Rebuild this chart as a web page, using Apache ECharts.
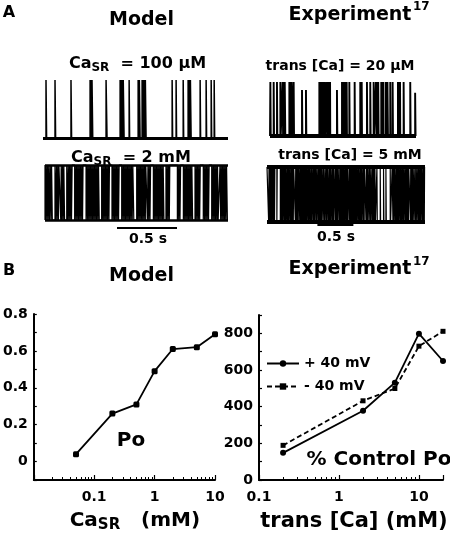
<!DOCTYPE html>
<html><head><meta charset="utf-8">
<script src="https://cdn.jsdelivr.net/npm/echarts@6/dist/echarts.min.js"></script>
<style>html,body{margin:0;padding:0;background:#fff}#c{width:450px;height:540px}</style>
</head><body><div id="c"></div>
<script>
// ---------- Panel B data ----------
const modelCaSR = [0.05, 0.2, 0.5, 1, 2, 5, 10];
const modelPo = [0.04, 0.26, 0.31, 0.49, 0.61, 0.62, 0.69];
const expTransCa = [0.2, 2, 5, 10, 20];
const expPlus40mV = [148, 378, 531, 798, 649];
const expMinus40mV = [189, 432, 499, 730, 811];
const legendNames = ['+ 40 mV', '- 40 mV'];
const modelYTickLabels = ['0', '0.2', '0.4', '0.6', '0.8'];
const expYTickLabels = ['0', '200', '400', '600', '800'];
const logXTickLabels = ['0.1', '1', '10'];

// ---------- Panel A single-channel records (ms) ----------
const scaleBarMs = 500;
const model100uMDurMs = 1540;
const model100uMOpen = [[25,30],[100,105],[233,238],[392,396],[400,404],[408,414],[525,533],
  [642,646],[650,655],[660,664],[668,675],[717,721],[792,796],[802,808],
  [825,829],[834,838],[843,847],[852,858],[1075,1079],[1108,1112],[1167,1171],
  [1208,1212],[1217,1221],[1227,1233],[1308,1312],[1358,1362],[1400,1404],[1425,1429]];
const model2mMDurMs = 1525;
const model2mMOpen = [[0,5],[10,16],[21,27],[32,38],[44,50],[55,61],
  [83,90],[95,101],[106,112],[116,131],[135,141],[146,152],[157,163],
  [181,188],[193,199],[204,210],[215,221],[226,247],[252,258],[263,269],[274,280],[285,291],[296,302],[307,313],[317,342],
  [347,353],[358,364],[369,375],[380,386],[391,397],[402,408],[413,419],[424,430],[435,441],[446,452],
  [472,478],[483,489],[494,500],[505,511],[516,522],[527,533],[537,558],
  [563,569],[574,580],[585,591],[596,602],[607,613],[618,639],
  [644,650],[655,661],[666,672],[677,683],[688,694],[699,705],[710,716],[721,727],[732,740],
  [764,770],[775,781],[786,792],[797,803],[808,814],[819,825],[830,836],[840,853],
  [858,864],[869,875],[880,903],
  [908,914],[919,925],[930,936],[941,947],[952,958],[963,969],[974,980],[985,991],
  [1008,1014],[1019,1025],[1030,1036],[1040,1103],
  [1108,1114],[1119,1125],[1130,1153],
  [1158,1164],[1169,1175],[1180,1186],[1191,1197],[1202,1208],[1213,1219],[1224,1230],
  [1250,1256],[1261,1267],[1272,1278],[1283,1289],[1294,1319],
  [1324,1330],[1335,1341],[1346,1352],[1357,1363],[1368,1389],
  [1394,1400],[1405,1411],[1416,1422],[1427,1433],[1438,1443],
  [1458,1464],[1469,1475],[1480,1486],[1491,1497],[1502,1508],[1513,1520]];
const exp20uMDurMs = 2030;
const exp20uMOpen = [[5,10],[51,56],[97,102],[144,149],[176,182],[186,190],[195,200],[205,213],
  [269,275],[280,286],[291,297],[300,306],[329,334],[445,450,0.85],[500,505,0.85],
  [686,692],[697,702],[707,713],[722,728],[733,740],[745,750],[755,762],[765,769],
  [792,798],[803,809],[814,820],[826,832],[835,838],[931,936,0.85],
  [1001,1008],[1012,1018],[1023,1030],[1034,1041],[1046,1052],[1057,1063],[1066,1070],
  [1103,1108],[1177,1182],[1255,1262],[1266,1272],[1275,1279],[1348,1353],[1394,1399],[1441,1446],
  [1473,1480],[1484,1490],[1495,1502],[1505,1510],[1547,1553],[1558,1564],[1570,1575],[1577,1580],
  [1612,1618],[1622,1628],[1633,1640],[1672,1677],[1705,1710],
  [1779,1785],[1790,1796],[1800,1806],[1808,1811],[1858,1863],[1950,1955],[2018,2024,0.8]];
const exp5mMDurMs = 2195;
const exp5mMClosed = [[23,28],[33,38],[42,47],[52,57],[62,69],[80,84],[90,94],[104,109],[137,142],
  [185,190],[194,199],[204,209],[215,220],[226,232],[245,249],[258,262],[276,281],[290,295],[305,310],
  [324,329],[334,339],[344,349],[355,360],[365,371],[394,399],[404,409],[414,419],[424,429],[434,440],
  [455,459],[468,472],[484,489],[500,504],[510,514],[523,528],[533,538],[545,550],[551,556],
  [570,574],[585,589],[603,608],[613,618],[620,625],[640,644],[655,659],[670,675],[690,694],[710,714],[725,729],
  [741,746],[750,755],[759,764],[780,784],[800,805],[820,824],[835,839],[855,860],[870,874],[885,889],
  [904,909],[914,919],[922,927],[945,949],[958,962],[971,976],[985,989],
  [1006,1011],[1016,1021],[1026,1031],[1038,1043],[1055,1059],[1070,1074],[1087,1092],[1105,1109],[1120,1124],
  [1142,1147],[1160,1164],[1175,1179],[1190,1194],
  [1205,1210],[1215,1220],[1226,1231],[1236,1241],[1246,1251],[1265,1269],
  [1283,1288],[1293,1298],[1304,1309],[1315,1320],[1335,1339],[1350,1354],[1376,1381],[1386,1391],[1399,1404],
  [1420,1424],[1440,1444],[1460,1465],[1470,1475],[1478,1483],[1495,1499],
  [1506,1527],[1532,1573],[1578,1619],[1624,1652],[1657,1712],[1717,1738],[1750,1754],[1765,1769],
  [1784,1789],[1794,1799],[1804,1809],[1815,1820],[1826,1831],[1845,1849],[1860,1864],[1877,1882],[1895,1900],
  [1915,1919],[1932,1937],[1942,1947],[1952,1957],[1964,1969],[1992,1997],[2002,2007],[2012,2017],[2020,2024],
  [2040,2044],[2061,2066],[2080,2085],[2100,2104],[2117,2122],[2127,2132],[2140,2145],[2160,2164],[2175,2180],[2185,2189]];

// ---------- helpers ----------
function openingsTrace(events, dur) {
  const pts = [[0, 0]];
  events.forEach(e => { const l = e.length > 2 ? e[2] : 1; pts.push([e[0], 0], [e[0], l], [e[1], l], [e[1], 0]); });
  pts.push([dur, 0]);
  return pts;
}
function closuresTrace(events, dur) {
  const pts = [[0, 1]];
  events.forEach(e => { pts.push([e[0], 1], [e[0], 0], [e[1], 0], [e[1], 1]); });
  pts.push([dur, 1]);
  return pts;
}
const FF = '"DejaVu Sans", "Liberation Sans", Arial, sans-serif';
function levelLines(levels, w) {
  return { silent: true, symbol: ['none', 'none'], label: { show: false },
    lineStyle: { color: '#000', width: w, type: 'solid' }, data: levels.map(v => ({ yAxis: v })) };
}
function traceSeries(idx, data, w, levels, lw) {
  return { type: 'line', xAxisIndex: idx, yAxisIndex: idx, data, symbol: 'none', clip: false,
    lineStyle: { color: '#000', width: w }, markLine: levelLines(levels, lw) };
}
function txt(x, y, text, size, align, rich) {
  const st = { text, fill: '#000', font: 'bold ' + size + 'px ' + FF, fontSize: size, fontWeight: 'bold', fontFamily: FF,
    textAlign: align || 'center', textVerticalAlign: 'middle', align: align || 'center', verticalAlign: 'middle' };
  if (rich) st.rich = rich;
  return { type: 'text', x, y, silent: true, style: st };
}
const subRich = (a, s, sp) => ({
  a: { fontSize: a, fontWeight: 'bold', fontFamily: FF, fill: '#000', color: '#000', lineHeight: a + 2, verticalAlign: 'top' },
  s: { fontSize: s, fontWeight: 'bold', fontFamily: FF, fill: '#000', color: '#000', lineHeight: s, padding: [sp, 0, 0, 0], verticalAlign: 'bottom' }
});
const hidden = (i, min, max) => ({ gridIndex: i, type: 'value', min, max, show: false });
const lbl = { color: '#000', fontFamily: FF, fontWeight: 'bold', fontSize: 14 };
const axLine = { show: true, onZero: false, lineStyle: { color: '#000', width: 2 } };
const axTick = { show: true, inside: true, length: 5, lineStyle: { color: '#000', width: 1.2 } };
const minTick = { show: true, splitNumber: 9, length: 3, lineStyle: { color: '#000', width: 1 } };
const logFmt = v => { const s = String(+Number(v).toPrecision(6)); return logXTickLabels.includes(s) ? s : ''; };

const option = {
  animation: false,
  backgroundColor: '#fff',
  textStyle: { fontFamily: FF },
  grid: [
    { left: 43, top: 80, width: 185, height: 58 },
    { left: 45, top: 165, width: 183, height: 63 },
    { left: 270, top: 82, width: 146, height: 54 },
    { left: 267, top: 167, width: 158, height: 58 },
    { left: 32, top: 314, width: 183, height: 166 },
    { left: 259, top: 315, width: 184, height: 165 }
  ],
  xAxis: [
    hidden(0, 0, model100uMDurMs), hidden(1, 0, model2mMDurMs), hidden(2, 0, exp20uMDurMs), hidden(3, 0, exp5mMDurMs),
    { gridIndex: 4, type: 'log', logBase: 10, min: 0.01, max: 10, axisLine: axLine, axisTick: axTick, minorTick: minTick,
      splitLine: { show: false }, minorSplitLine: { show: false },
      axisLabel: Object.assign({ margin: 10, formatter: logFmt, showMaxLabel: true, showMinLabel: true }, lbl),
      name: '{a|Ca}{s|SR}{a|   (mM)}', nameLocation: 'middle', nameGap: 31,
      nameTextStyle: { padding: [0, 0, 0, 21], rich: subRich(20, 15, 12) } },
    { gridIndex: 5, type: 'log', logBase: 10, min: 0.1, max: 20, axisLine: axLine, axisTick: axTick, minorTick: minTick,
      splitLine: { show: false }, minorSplitLine: { show: false },
      axisLabel: Object.assign({ margin: 10, formatter: logFmt, showMaxLabel: true, showMinLabel: true }, lbl),
      name: 'trans [Ca] (mM)', nameLocation: 'middle', nameGap: 31,
      nameTextStyle: { padding: [0, 0, 0, 6], color: '#000', fontFamily: FF, fontWeight: 'bold', fontSize: 21 } }
  ],
  yAxis: [
    hidden(0, 0, 1), hidden(1, -0.145, 1), hidden(2, 0, 1), hidden(3, -0.055, 1),
    { gridIndex: 4, type: 'value', min: -0.1, max: 0.8, interval: 0.1, axisLine: axLine,
      axisTick: Object.assign({}, axTick, { length: 3 }), splitLine: { show: false },
      axisLabel: Object.assign({ margin: 6, formatter: v => { const s = String(Math.round(v * 10) / 10); return modelYTickLabels.includes(s) ? s : ''; } }, lbl) },
    { gridIndex: 5, type: 'value', min: 0, max: 900, interval: 100, axisLine: axLine,
      axisTick: Object.assign({}, axTick, { length: 3 }), splitLine: { show: false },
      axisLabel: Object.assign({ margin: 6, formatter: v => expYTickLabels.includes(String(v)) ? String(v) : '' }, lbl) }
  ],
  legend: {
    data: legendNames, left: 266, top: 355, orient: 'vertical', itemWidth: 32, itemHeight: 8, itemGap: 6,
    textStyle: { color: '#000', fontFamily: FF, fontWeight: 'bold', fontSize: 14, lineHeight: 17 }, padding: 0
  },
  series: [
    traceSeries(0, openingsTrace(model100uMOpen, model100uMDurMs), 1.5, [0], 3),
    traceSeries(1, openingsTrace(model2mMOpen, model2mMDurMs), 1.2, [0, 1], 2.5),
    traceSeries(2, openingsTrace(exp20uMOpen, exp20uMDurMs), 1.9, [0], 4),
    traceSeries(3, closuresTrace(exp5mMClosed, exp5mMDurMs), 1.2, [0, 1], 4),
    { type: 'line', xAxisIndex: 1, yAxisIndex: 1, data: [[600, -0.145], [600 + scaleBarMs, -0.145]], symbol: 'none', clip: false, lineStyle: { color: '#000', width: 2 } },
    { type: 'line', xAxisIndex: 3, yAxisIndex: 3, data: [[700, -0.055], [700 + scaleBarMs, -0.055]], symbol: 'none', clip: false, lineStyle: { color: '#000', width: 2 } },
    { type: 'line', xAxisIndex: 4, yAxisIndex: 4, data: modelCaSR.map((c, i) => [c, modelPo[i]]),
      symbol: 'roundRect', symbolSize: 6, itemStyle: { color: '#000' }, lineStyle: { color: '#000', width: 1.8 } },
    { name: legendNames[0], type: 'line', xAxisIndex: 5, yAxisIndex: 5, data: expTransCa.map((c, i) => [c, expPlus40mV[i]]),
      symbol: 'circle', symbolSize: 6, itemStyle: { color: '#000' }, lineStyle: { color: '#000', width: 1.8 } },
    { name: legendNames[1], type: 'line', xAxisIndex: 5, yAxisIndex: 5, data: expTransCa.map((c, i) => [c, expMinus40mV[i]]),
      symbol: 'rect', symbolSize: 5, itemStyle: { color: '#000' }, lineStyle: { color: '#000', width: 1.8, type: [5, 3] } }
  ],
  graphic: [
    txt(9, 13, 'A', 16), txt(9, 271, 'B', 16),
    txt(141.5, 20, 'Model', 19), txt(350, 15, 'Experiment', 19), txt(413, 7, '17', 12, 'left'),
    txt(141.5, 276.5, 'Model', 19), txt(350, 269, 'Experiment', 19), txt(413, 262, '17', 12, 'left'),
    txt(137.5, 65, '{a|Ca}{s|SR}{a|  = 100 µM}', 16, 'center', subRich(16, 12, 10)),
    txt(131, 159, '{a|Ca}{s|SR}{a|  = 2 mM}', 16, 'center', subRich(16, 12, 10)),
    txt(340, 66, 'trans [Ca] = 20 µM', 14), txt(350, 155, 'trans [Ca] = 5 mM', 14),
    txt(148, 239, '0.5 s', 14), txt(336, 237, '0.5 s', 14),
    txt(131, 441, 'Po', 20), txt(379, 460, '% Control Po', 20)
  ]
};
echarts.init(document.getElementById('c'), null, { renderer: 'canvas' }).setOption(option);
</script></body></html>
